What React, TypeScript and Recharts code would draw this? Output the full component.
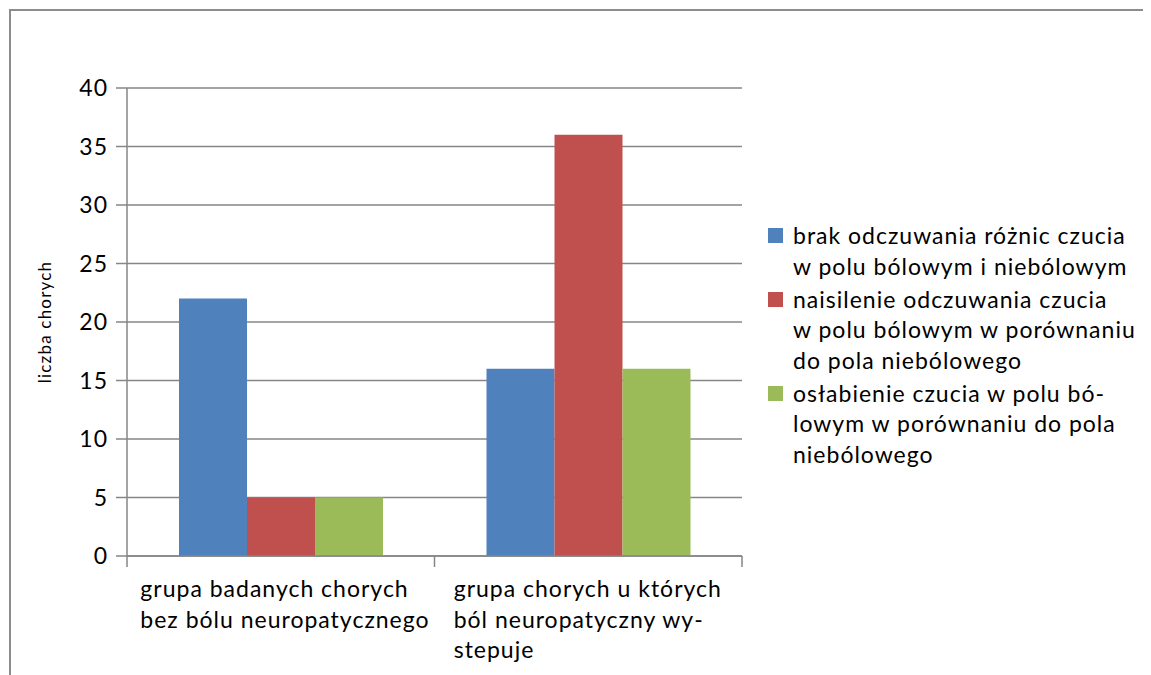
import React from "react";
import { BarChart, Bar, XAxis, YAxis, CartesianGrid, Legend } from "recharts";

const CATEGORIES = [
  "grupa badanych chorych\nbez bólu neuropatycznego",
  "grupa chorych u których\nból neuropatyczny wy-\nstepuje",
];
const SERIES_NAMES = [
  "brak odczuwania różnic czucia w polu bólowym i niebólowym",
  "naisilenie odczuwania czucia w polu bólowym w porównaniu do pola niebólowego",
  "osłabienie czucia w polu bólowym w porównaniu do pola niebólowego",
];
const LEGEND_LINES = [
  ["brak odczuwania różnic czucia", "w polu bólowym i niebólowym"],
  ["naisilenie odczuwania czucia", "w polu bólowym w porównaniu", "do pola niebólowego"],
  ["osłabienie czucia w polu bó-", "lowym w porównaniu do pola", "niebólowego"],
];
const BRAK = [22, 16];
const NASILENIE = [5, 36];
const OSLABIENIE = [5, 16];
const Y_TICKS = [0, 5, 10, 15, 20, 25, 30, 35, 40];

const COLORS = ["#4F81BD", "#C0504D", "#9BBB59"];
const GRID = "#868686";
const FONT = "Lato, 'Open Sans', sans-serif";

const W = 1143;
const H = 667;
const MARGIN = { top: 80, right: 409, left: 0, bottom: 0 };
const HALF_BAND = (W - MARGIN.right - 119) / CATEGORIES.length / 2;

const data = CATEGORIES.map((name, i) => ({
  name,
  s0: BRAK[i],
  s1: NASILENIE[i],
  s2: OSLABIENIE[i],
}));

const CategoryTick = (props: any) => {
  const { x, y, payload, index } = props;
  const lines: string[] = String(payload.value).split("\n");
  const longest = Math.max(...lines.map((l) => l.length));
  const left = x - (longest * 11.7) / 2;
  return (
    <g>
      <line x1={x - HALF_BAND} x2={x - HALF_BAND} y1={y} y2={y + 11} stroke={GRID} strokeWidth={1.5} />
      {index === CATEGORIES.length - 1 && (
        <line x1={x + HALF_BAND} x2={x + HALF_BAND} y1={y} y2={y + 11} stroke={GRID} strokeWidth={1.5} />
      )}
      <text x={left} y={y + 41} fontSize={23} letterSpacing={1} fill="#000" fontFamily={FONT} textAnchor="start">
        {lines.map((l, i) => (
          <tspan key={i} x={left} dy={i === 0 ? 0 : 30.5}>
            {l}
          </tspan>
        ))}
      </text>
    </g>
  );
};

const AxisTitle = (props: any) => {
  const { viewBox } = props;
  const x = viewBox.x + 43;
  const y = viewBox.y + viewBox.height / 2;
  return (
    <text
      x={x}
      y={y}
      transform={`rotate(-90, ${x}, ${y})`}
      textAnchor="middle"
      fontSize={17}
      letterSpacing={1.2}
      fill="#000"
      fontFamily={FONT}
    >
      liczba chorych
    </text>
  );
};

const renderLegend = () => (
  <div style={{ fontFamily: FONT, fontSize: 23, letterSpacing: 1, lineHeight: "30.5px", color: "#000" }}>
    {LEGEND_LINES.map((lines, i) => (
      <div key={i} style={{ display: "flex", marginBottom: 2.5 }}>
        <div style={{ width: 15, height: 15, marginTop: 8, marginRight: 10, background: COLORS[i], flex: "none" }} />
        <div>
          {lines.map((l, j) => (
            <div key={j} style={{ whiteSpace: "nowrap" }}>
              {l}
            </div>
          ))}
        </div>
      </div>
    ))}
  </div>
);

export default function App() {
  return (
    <div style={{ position: "relative", width: W, height: H, overflow: "hidden", background: "#fff" }}>
      <div
        style={{
          position: "absolute",
          left: 1,
          top: 1,
          width: 1200,
          height: 720,
          borderTop: `2px solid #8c8c8c`,
          borderLeft: `2px solid #8c8c8c`,
          boxSizing: "border-box",
        }}
      />
      <div style={{ position: "absolute", left: 0, top: 0 }}>
        <BarChart width={W} height={H} data={data} margin={MARGIN} barCategoryGap={52} barGap={0}>
          <CartesianGrid vertical={false} stroke={GRID} strokeWidth={1.5} />
          <XAxis
            dataKey="name"
            height={119}
            axisLine={{ stroke: GRID, strokeWidth: 1.5 }}
            tickLine={false}
            tickSize={0}
            tickMargin={0}
            tick={<CategoryTick />}
            interval={0}
          />
          <YAxis
            width={119}
            domain={[0, 40]}
            ticks={Y_TICKS}
            interval={0}
            tickSize={11}
            tickMargin={8}
            axisLine={{ stroke: GRID, strokeWidth: 1.5 }}
            tickLine={{ stroke: GRID, strokeWidth: 1.5 }}
            tick={{ fontSize: 23, letterSpacing: 1, fill: "#000", fontFamily: FONT }}
            label={<AxisTitle />}
          />
          <Legend
            layout="vertical"
            align="center"
            verticalAlign="middle"
            content={renderLegend}
            wrapperStyle={{ left: 760, top: 212, width: 380 }}
          />
          <Bar dataKey="s0" name={SERIES_NAMES[0]} fill={COLORS[0]} isAnimationActive={false} />
          <Bar dataKey="s1" name={SERIES_NAMES[1]} fill={COLORS[1]} isAnimationActive={false} />
          <Bar dataKey="s2" name={SERIES_NAMES[2]} fill={COLORS[2]} isAnimationActive={false} />
        </BarChart>
      </div>
    </div>
  );
}
